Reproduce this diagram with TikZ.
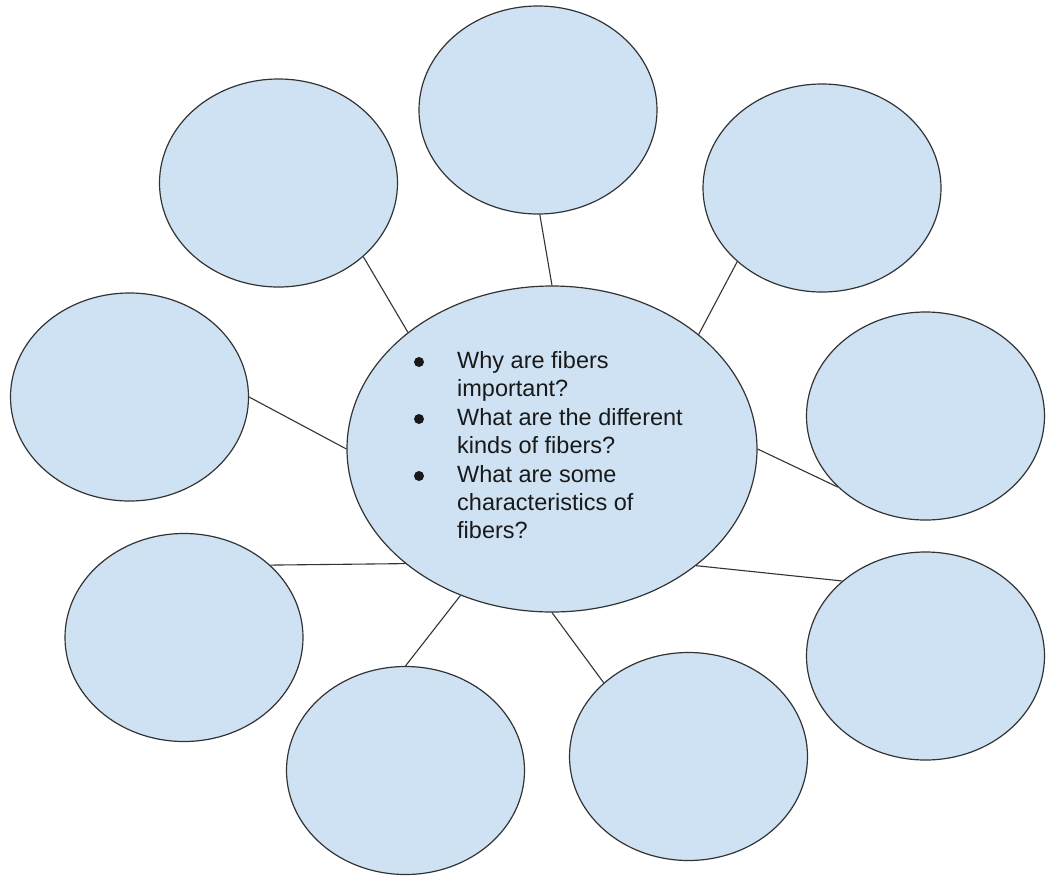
\documentclass[tikz,border=0pt]{standalone}
\usepackage{fontspec}
\setmainfont{Liberation Sans}
\usetikzlibrary{shapes.geometric}
\definecolor{bubblefill}{HTML}{CFE2F3}
\definecolor{edgegray}{HTML}{333333}
\begin{document}
\begin{tikzpicture}[x=1pt,y=-1pt,
  bubble/.style={ellipse,draw=edgegray,fill=bubblefill,line width=1.2pt,inner sep=0pt,minimum width=238pt,minimum height=208pt},
  hub/.style={bubble,minimum width=410pt,minimum height=326pt},
  link/.style={draw=edgegray,line width=1.1pt},
  txt/.style={anchor=base west,inner sep=0pt,font=\fontsize{23.5}{28}\selectfont,text=black!90},
  dot/.style={circle,fill=black!90,inner sep=0pt,minimum size=10pt}]
\useasboundingbox (0,0) rectangle (1047,876);
\node[hub] (c) at (552,449) {};
\node[bubble] (n1) at (538,110) {};
\node[bubble] (n2) at (278.5,183) {};
\node[bubble] (n3) at (822,188) {};
\node[bubble] (n4) at (129.5,397) {};
\node[bubble] (n5) at (925.5,416) {};
\node[bubble] (n6) at (184,637.5) {};
\node[bubble] (n7) at (405.5,770.5) {};
\node[bubble] (n8) at (688.5,756.5) {};
\node[bubble] (n9) at (925.5,656) {};
\draw[link] (c.90) -- (n1.271);
\draw[link] (c.141.8) -- (n2.319.2);
\draw[link] (c.38.9) -- (n3.221.4);
\draw[link] (c.180) -- (n4.0);
\draw[link] (c.0) -- (n5.219.8);
\draw[link] (c.218.2) -- (n6.40.9);
\draw[link] (c.238.8) -- (n7.90);
\draw[link] (c.270) -- (n8.139.3);
\draw[link] (c.321.8) -- (n9.138.5);
\node[dot] (b1) at (419,362) {};
\node[dot] (b2) at (419,419) {};
\node[dot] (b3) at (419,476) {};
\node[txt] (l1) at (457,368.5) {Why are fibers};
\node[txt] (l2) at (457,396.5) {important?};
\node[txt] (l3) at (457,425.5) {What are the different};
\node[txt] (l4) at (457,453.5) {kinds of fibers?};
\node[txt] (l5) at (457,482.5) {What are some};
\node[txt] (l6) at (457,510.5) {characteristics of};
\node[txt] (l7) at (457,538.5) {fibers?};
\end{tikzpicture}
\end{document}
